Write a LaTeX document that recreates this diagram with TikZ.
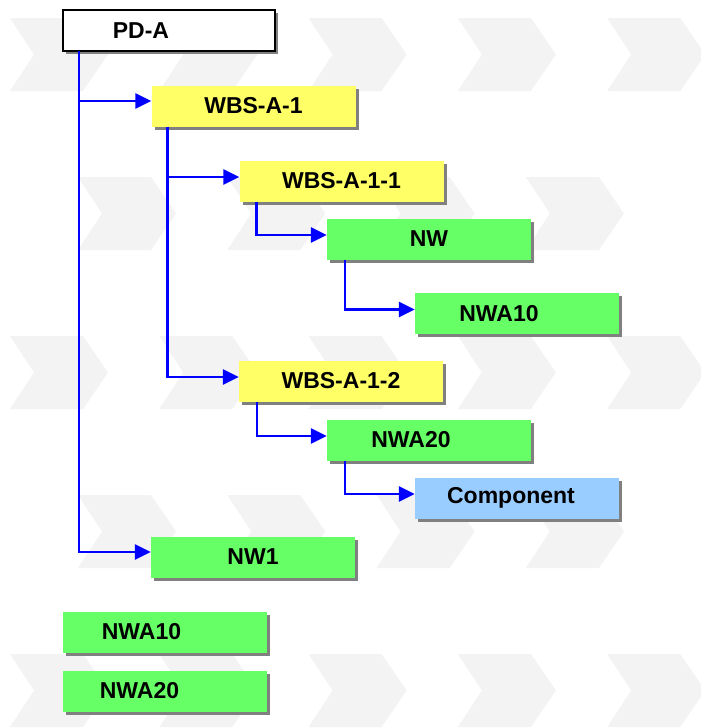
\documentclass[tikz,border=0pt]{standalone}
\usepackage{fontspec}
\setmainfont{Liberation Sans}
\usetikzlibrary{arrows.meta,shadows}
\definecolor{chev}{RGB}{243,243,243}
\definecolor{ylw}{RGB}{255,255,102}
\definecolor{grn}{RGB}{102,255,102}
\definecolor{lblue}{RGB}{153,204,255}
\definecolor{lineblue}{RGB}{0,0,255}
\definecolor{shd}{RGB}{128,128,128}
\tikzset{
  box/.style={minimum width=204pt, minimum height=41pt, inner sep=0pt,
    font=\fontsize{23}{26}\selectfont\bfseries,
    drop shadow={shadow xshift=3pt, shadow yshift=-3pt, fill=shd, opacity=1}},
  wbs/.style={box, fill=ylw},
  nwbox/.style={box, fill=grn},
  comp/.style={box, fill=lblue},
  proj/.style={box, fill=white, draw=black, line width=2pt, minimum width=212pt},
  conn/.style={draw=lineblue, line width=2.5pt, -{Triangle[length=16pt,width=15pt]}},
  chevron/.style={fill=chev, draw=none}
}
\begin{document}
\begin{tikzpicture}[x=1pt,y=-1pt]
\useasboundingbox (0,0) rectangle (701,728);
\fill[white] (0,0) rectangle (701,728);
\begin{scope}
\clip (0,0) rectangle (701,728);
\foreach \r in {0,1,2,3,4}{
  \pgfmathsetmacro{\yy}{18+159*\r}
  \pgfmathsetmacro{\xs}{mod(\r,2)==0 ? 10 : 78}
  \pgfmathtruncatemacro{\kmax}{mod(\r,2)==0 ? 4 : 3}
  \foreach \k in {0,...,\kmax}{
    \pgfmathsetmacro{\xx}{\xs+149.3*\k}
    \fill[chevron] (\xx,\yy) -- ++(73,0) -- ++(25,36.5) -- ++(-25,36.5) -- ++(-73,0) -- ++(24,-36.5) -- cycle;
  }
}
\end{scope}

\node[proj]  (pda)   at (169,30.5) {PD-A\kern56pt};
\node[wbs]   (wbs1)  at (253.5,106) {WBS-A-1};
\node[wbs]   (wbs11) at (341.5,181) {WBS-A-1-1};
\node[nwbox] (nw)    at (429,239) {NW};
\node[nwbox] (nwa10) at (517,313.5) {NWA10\kern36pt};
\node[wbs]   (wbs12) at (341,381) {WBS-A-1-2};
\node[nwbox] (nwa20) at (429,440) {NWA20\kern36pt};
\node[comp]  (comp)  at (517,498) {Component\kern12pt};
\node[nwbox] (nw1)   at (253,557) {NW1};
\node[nwbox] (nwa10b) at (164.5,632) {NWA10\kern46pt};
\node[nwbox] (nwa20b) at (164.5,691) {NWA20\kern50pt};

\draw[conn] ([xshift=17pt,yshift=1pt]pda.south west) |- ([yshift=5pt]nw1.west);
\draw[conn] ([xshift=17pt,yshift=1pt]pda.south west) |- ([yshift=5pt]wbs1.west);
\draw[conn] ([xshift=16pt]wbs1.south west) |- ([yshift=4pt]wbs12.west);
\draw[conn] ([xshift=16pt]wbs1.south west) |- ([yshift=4pt]wbs11.west);
\draw[conn] ([xshift=17pt]wbs11.south west) |- ([yshift=4pt]nw.west);
\draw[conn] ([xshift=18pt]nw.south west) |- ([yshift=4pt]nwa10.west);
\draw[conn] ([xshift=18pt]wbs12.south west) |- ([yshift=4pt]nwa20.west);
\draw[conn] ([xshift=18pt]nwa20.south west) |- ([yshift=4pt]comp.west);
\end{tikzpicture}
\end{document}
